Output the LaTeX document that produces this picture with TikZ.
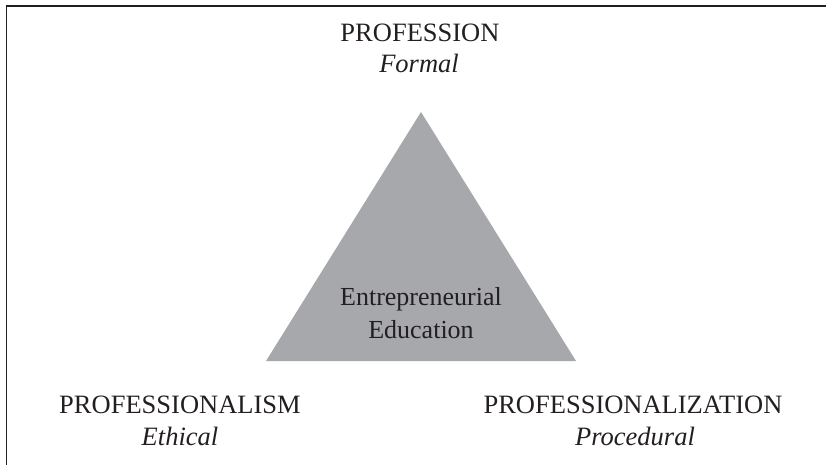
\documentclass[tikz,border=0pt]{standalone}
\usepackage{fontspec}
\setmainfont{Liberation Serif}
\definecolor{trigray}{HTML}{A7A8AB}
\definecolor{ink}{HTML}{231F20}
\begin{document}
\begin{tikzpicture}[x=1pt,y=-1pt,
  lbl/.style={anchor=base,inner sep=0pt,text=ink,font=\fontsize{26.5}{31}\selectfont},
  midlbl/.style={lbl,font=\fontsize{26}{31}\selectfont},
  sublbl/.style={lbl,font=\fontsize{26.5}{31}\selectfont\itshape},
  frame/.style={draw=ink,line width=1.5pt}]
\useasboundingbox (0,0) rectangle (826,465);
% frame (top and left edges visible)
\coordinate (fbl) at (6.5,465);
\coordinate (ftl) at (6.5,6);
\coordinate (ftr) at (826,6);
\draw[frame] (fbl) -- (ftl) -- (ftr);
% triangle
\coordinate (apex) at (421,112);
\coordinate (bl) at (266,361);
\coordinate (br) at (576,361);
\fill[trigray] (apex) -- (bl) -- (br) -- cycle;
% labels
\node[lbl] (prof) at (420,42) {PROFESSION};
\node[sublbl] (formal) at (419,73) {Formal};
\node[midlbl] (ent) at (421,305) {Entrepreneurial};
\node[midlbl] (edu) at (421,338) {Education};
\node[lbl] (pism) at (180,413) {PROFESSIONALISM};
\node[sublbl] (eth) at (180,445) {Ethical};
\node[lbl] (pzat) at (633,413) {PROFESSIONALIZATION};
\node[sublbl] (proc) at (635,445) {Procedural};
\end{tikzpicture}
\end{document}
